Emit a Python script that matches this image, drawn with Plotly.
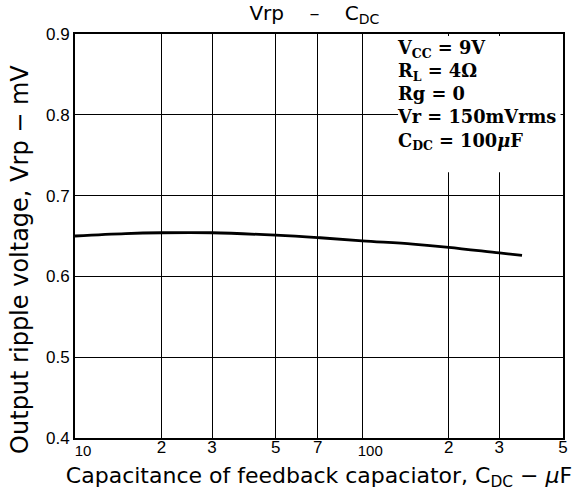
import plotly.graph_objects as go

# Data
cap_uF = [10, 15, 20, 30, 50, 70, 100, 150, 200, 300, 360]
vrp_mV = [0.650, 0.653, 0.654, 0.654, 0.651, 0.648, 0.644, 0.640, 0.636, 0.629, 0.626]

x_minor_vals = [20, 30, 50, 70, 200, 300, 500]
x_minor_text = ["2", "3", "5", "7", "2", "3", "5"]
x_decade_vals = [10, 100]
x_decade_text = ["10", "100"]
y_tickvals = [0.4, 0.5, 0.6, 0.7, 0.8, 0.9]
y_ticktext = ["0.4", "0.5", "0.6", "0.7", "0.8", "0.9"]

conditions = ("<b>V<sub>CC</sub> = 9V<br>R<sub>L</sub> = 4Ω<br>Rg = 0<br>"
              "Vr = 150mVrms<br>C<sub>DC</sub> = 100<i>μ</i>F</b>")

fig = go.Figure()
fig.add_trace(go.Scatter(x=cap_uF, y=vrp_mV, mode="lines", line=dict(color="black", width=2.8, shape="spline"),
                         showlegend=False, hoverinfo="skip"))
# invisible helper trace so the overlay axis carrying the decade labels is drawn
fig.add_trace(go.Scatter(x=cap_uF, y=vrp_mV, xaxis="x2", mode="lines", line=dict(width=0),
                         opacity=0, showlegend=False, hoverinfo="skip"))

axis_common = dict(showgrid=True, gridcolor="black", gridwidth=1.3, showline=True, linecolor="black",
                   linewidth=2, mirror=True, ticks="", zeroline=False, automargin=False,
                   tickfont=dict(family="Liberation Sans", size=17, color="black"))

fig.update_layout(
    xaxis=dict(type="log", range=[1, 2.69897], tickvals=x_decade_vals + x_minor_vals,
               ticktext=[""] * len(x_decade_vals) + x_minor_text, ticklabelstandoff=-7,
               title=dict(text="Capacitance of feedback capaciator, C<sub>DC</sub> − <i>μ</i>F",
                          font=dict(family="DejaVu Sans", size=22, color="black"), standoff=11),
               **axis_common),
    xaxis2=dict(type="log", range=[1, 2.69897], overlaying="x", side="bottom", tickvals=x_decade_vals,
                ticktext=x_decade_text, showgrid=False, showline=False, ticks="", zeroline=False,
                automargin=False, ticklabelstandoff=2, ticklabelshift=8,
                tickfont=dict(family="Liberation Sans", size=15, color="black")),
    yaxis=dict(range=[0.4, 0.9], tickvals=y_tickvals, ticktext=y_ticktext,
               **axis_common),
)

fig.add_shape(type="rect", xref="paper", yref="paper", x0=0.662, x1=0.995, y0=0.658, y1=0.995,
              fillcolor="white", line=dict(width=0), layer="above")

fig.add_annotation(xref="paper", yref="paper", x=0.656, y=0.998, xanchor="left", yanchor="top",
                   text=conditions, showarrow=False, align="left",
                   font=dict(family="DejaVu Serif", size=17.8, color="black"))

# y-axis title (placed as an annotation so it sits where the reference puts it)
fig.add_annotation(xref="paper", yref="paper", x=-0.113, y=0.443, xanchor="center", yanchor="middle",
                   text="Output ripple voltage, Vrp − mV", textangle=-90, showarrow=False,
                   font=dict(family="DejaVu Sans", size=24, color="black"))

fig.update_layout(
    width=579, height=495,
    margin=dict(l=75, r=16, t=34, b=57),
    paper_bgcolor="white", plot_bgcolor="white",
    title=dict(text="Vrp    –    C<sub>DC</sub>", x=0.543, xanchor="center", y=0.988, yanchor="top",
               font=dict(family="DejaVu Sans", size=20, color="black")),
)

fig.write_html("out.html", config={"displayModeBar": False},
               post_script="document.body.style.margin='0';")
